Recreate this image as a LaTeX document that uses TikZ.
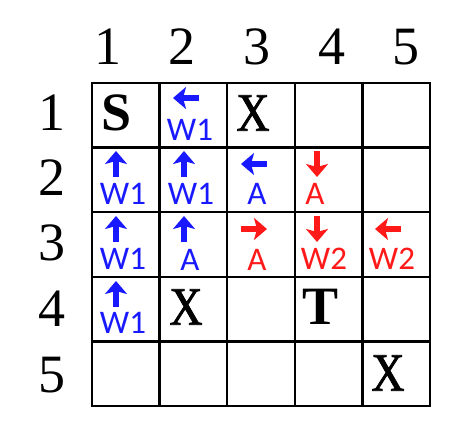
\documentclass[tikz,border=0pt]{standalone}
\usepackage{fontspec}
\setmainfont{Liberation Serif}
\newfontfamily\tagfont{Carlito}
\newfontfamily\markfont[FakeStretch=0.85,FakeBold=1.4]{Liberation Serif}
\usetikzlibrary{arrows.meta}
\definecolor{wblue}{RGB}{25,25,255}
\definecolor{wred}{RGB}{255,25,25}
\tikzset{
	mv/.style={line width=6.5pt,-{Stealth[width=22pt,length=13pt,inset=3pt]}},
	big/.style={inner sep=0pt,font=\fontsize{54}{54}\selectfont},
	tag/.style={inner sep=0pt,font=\tagfont\fontsize{33}{33}\selectfont},
}
\begin{document}
\begin{tikzpicture}[x=1pt,y=-1pt]
			%\draw[help lines] (0,0) grid (454,427);
			\useasboundingbox (0,0) rectangle (454,427);

			\draw[line width=2.4pt] (92,83) rectangle (430,406);
			\foreach \i in {1,...,4} {
				\draw[line width=2.4pt] (92+67.6*\i,83) -- (92+67.6*\i,406);
				\draw[line width=2.4pt] (92,83+64.6*\i) -- (430,83+64.6*\i);
			}

			\foreach \c/\x in {1/108,2/182,3/257,4/332,5/406}
				\node[big] (col\c) at (\x,47) {\c};
			\foreach \r/\y in {1/113,2/178,3/243,4/309,5/375}
				\node[big] (row\r) at (52,\y) {\r};

			\node[big] (start) at (117,113) {\bfseries S};
			\node[big] (x13) at (253,113) {\markfont X};
			\node[big] (x42) at (186,307) {\markfont X};
			\node[big] (goal) at (321,307) {\bfseries T};
			\node[big] (x55) at (388,373) {\markfont X};

			% row 1
			\draw[mv,wblue] (199,98) -- (173,98);
			\node[tag,wblue] (t12) at (190,130) {W1};

			% row 2
			\draw[mv,wblue] (116,177) -- (116,151);
			\node[tag,wblue] (t21) at (123,194) {W1};
			\draw[mv,wblue] (184,177) -- (184,151);
			\node[tag,wblue] (t22) at (191,194) {W1};
			\draw[mv,wblue] (267,164) -- (241,164);
			\node[tag,wblue] (t23) at (257,194) {A};
			\draw[mv,wred] (317,151) -- (317,177);
			\node[tag,wred] (t24) at (315,194) {A};

			% row 3
			\draw[mv,wblue] (116,242) -- (116,216);
			\node[tag,wblue] (t31) at (123,259) {W1};
			\draw[mv,wblue] (184,242) -- (184,216);
			\node[tag,wblue] (t32) at (190,260) {A};
			\draw[mv,wred] (241,229) -- (267,229);
			\node[tag,wred] (t33) at (257,260) {A};
			\draw[mv,wred] (317,216) -- (317,242);
			\node[tag,wred] (t34) at (324,259) {W2};
			\draw[mv,wred] (401,229) -- (375,229);
			\node[tag,wred] (t35) at (392,259) {W2};

			% row 4
			\draw[mv,wblue] (116,307) -- (116,281);
			\node[tag,wblue] (t41) at (123,323) {W1};
		\end{tikzpicture}
\end{document}
